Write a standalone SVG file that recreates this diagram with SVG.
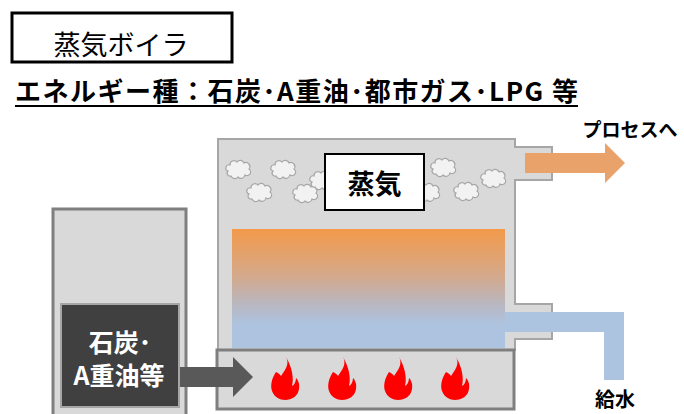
<svg xmlns="http://www.w3.org/2000/svg" width="684" height="414" viewBox="0 0 684 414">
  <defs>
    <style>
      .jp { font-family: "Noto Sans CJK JP", "Noto Sans", sans-serif; }
      .b { font-weight: 700; }
      .cloud { fill: #f2f2f2; stroke: #a6a6a6; stroke-width: 1.2; }
      .flame { fill: #ff0000; }
      .shell { fill: #d9d9d9; stroke: #a6a6a6; stroke-width: 2; }
      .frame { fill: #d9d9d9; stroke: #7f7f7f; stroke-width: 3; }
      .pipe { fill: #adc4e0; }
    </style>
    <linearGradient id="heat" x1="0" y1="0" x2="0" y2="1">
      <stop offset="0" stop-color="#f39a4a"/>
      <stop offset="0.4" stop-color="#d4a98c"/>
      <stop offset="0.62" stop-color="#bab6be"/>
      <stop offset="0.8" stop-color="#adc3df"/>
      <stop offset="1" stop-color="#adc4e0"/>
    </linearGradient>
    <path id="puff" class="cloud" d="M-10,2 A3,3 0 0 1 -8,-4 A4,4 0 0 1 -1,-7 A4,4 0 0 1 6,-6 A4,4 0 0 1 11,0 A3,3 0 0 1 7,6 A4,4 0 0 1 0,8 A4,4 0 0 1 -7,7 A3,3 0 0 1 -10,2 Z"/>
    <path id="fire" class="flame" d="M16,0 C20,7 15,13 11,19 C10,17 8,16 6,15 C2,21 0,28 2,34 C4,40 10,43 15,43 C22,43 28,39 29,32 C30,27 28,23 26,21 C26,25 24,28 22,29 C24,21 22,10 16,0 Z"/>
  </defs>

  <!-- title -->
  <g id="title">
    <rect x="12" y="13" width="220" height="49" fill="#ffffff" stroke="#000000" stroke-width="3"/>
    <text class="jp" x="121" y="55" font-size="27" text-anchor="middle" fill="#000000">蒸気ボイラ</text>
  </g>

  <g id="energy-types">
    <text class="jp b" x="15" y="101" font-size="26" textLength="563" lengthAdjust="spacing" fill="#000000">エネルギー種：石炭･A重油･都市ガス･LPG 等</text>
    <line x1="15" y1="106" x2="578" y2="106" stroke="#000000" stroke-width="2"/>
  </g>

  <!-- boiler shell with steam and feed-water nozzles -->
  <g id="boiler">
    <path class="shell" d="M218,139 H515 V147 H552 V180 H515 V304 H552 V339 H515 V350 H218 Z"/>
    <rect x="232" y="229" width="273" height="119" fill="url(#heat)"/>
    <use href="#puff" x="238" y="169"/>
    <use href="#puff" x="283" y="169"/>
    <use href="#puff" x="259" y="192"/>
    <use href="#puff" x="305" y="193"/>
    <use href="#puff" x="322" y="180"/>
    <use href="#puff" x="427" y="192"/>
    <use href="#puff" x="443" y="167"/>
    <use href="#puff" x="466" y="191"/>
    <use href="#puff" x="493" y="178"/>
  </g>

  <g id="steam-label">
    <rect x="325" y="154" width="99" height="56" fill="#ffffff" stroke="#000000" stroke-width="2"/>
    <text class="jp b" x="374.5" y="194" font-size="27" text-anchor="middle" fill="#000000">蒸気</text>
  </g>

  <!-- furnace -->
  <g id="furnace">
    <rect class="frame" x="217" y="350" width="297" height="59"/>
    <use href="#fire" x="270" y="357"/>
    <use href="#fire" x="327" y="357"/>
    <use href="#fire" x="383" y="357"/>
    <use href="#fire" x="440" y="357"/>
  </g>

  <!-- fuel hopper -->
  <g id="fuel">
    <rect class="frame" x="53" y="209" width="133" height="210"/>
    <rect x="61" y="304" width="118" height="103" fill="#404040" stroke="#a6a6a6" stroke-width="2"/>
    <text class="jp b" x="120" y="352" font-size="25" text-anchor="middle" fill="#ffffff">石炭･</text>
    <text class="jp b" x="119" y="385" font-size="25" text-anchor="middle" fill="#ffffff">A重油等</text>
  </g>

  <g id="connectors">
    <!-- steam out -->
    <path d="M525,153 H605 V143 L625,163 L605,183 V173 H525 Z" fill="#e8a26a"/>
    <!-- feed water in -->
    <path class="pipe" d="M505,312 H624 V380 H604 V332 H505 Z"/>
    <!-- fuel feed -->
    <path d="M180,367 H233 V357 L253,377 L233,397 V387 H180 Z" fill="#595959"/>
  </g>

  <g id="labels">
    <text class="jp b" x="630" y="137" font-size="19" text-anchor="middle" fill="#000000">プロセスへ</text>
    <text class="jp b" x="615" y="407" font-size="20" text-anchor="middle" fill="#000000">給水</text>
  </g>
</svg>
